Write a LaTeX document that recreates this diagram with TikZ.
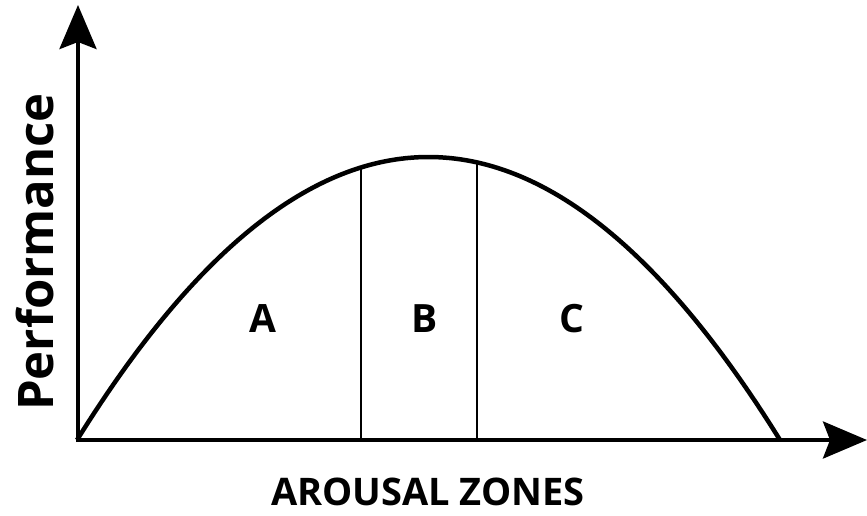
\documentclass[tikz,border=0pt]{standalone}
\usepackage{fontspec}
\setmainfont{Open Sans}
\usetikzlibrary{arrows.meta}
\begin{document}
\begin{tikzpicture}[x=1pt,y=1pt,
  axis/.style={line width=4pt,-{Stealth[length=44pt,width=37pt,inset=7pt]}},
  curve/.style={line width=4.5pt},
  divider/.style={line width=1.8pt},
  zone/.style={font=\fontsize{39}{39}\selectfont\bfseries, inner sep=0pt},
  axlabel/.style={font=\fontsize{38}{38}\selectfont\bfseries, inner sep=0pt}]
\useasboundingbox (0,0) rectangle (867,-515);
\coordinate (o) at (78,-440);
\coordinate (ytop) at (78,-5);
\coordinate (xend) at (867,-440);
\coordinate (cstart) at (77,-440);
\coordinate (cend) at (780,-440);
\coordinate (d1top) at (361,-167.5);
\coordinate (d1bot) at (361,-440);
\coordinate (d2top) at (477,-162.3);
\coordinate (d2bot) at (477,-440);
\draw[divider] (d1top) -- (d1bot);
\draw[divider] (d2top) -- (d2bot);
\draw[curve] (cstart) .. controls (311.33,-62.67) and (545.67,-62.67) .. (cend);
\draw[axis] ([yshift=-2pt]o) -- (ytop);
\draw[axis] ([xshift=-2pt]o) -- (xend);
\node[zone] (A) at (263,-319) {A};
\node[zone] (B) at (425,-319) {B};
\node[zone] (C) at (572,-319) {C};
\node[axlabel, rotate=90, font=\fontsize{49}{49}\selectfont\bfseries] (perf) at (35,-252) {Performance};
\node[axlabel] (arousal) at (428,-492) {AROUSAL ZONES};
\end{tikzpicture}
\end{document}
